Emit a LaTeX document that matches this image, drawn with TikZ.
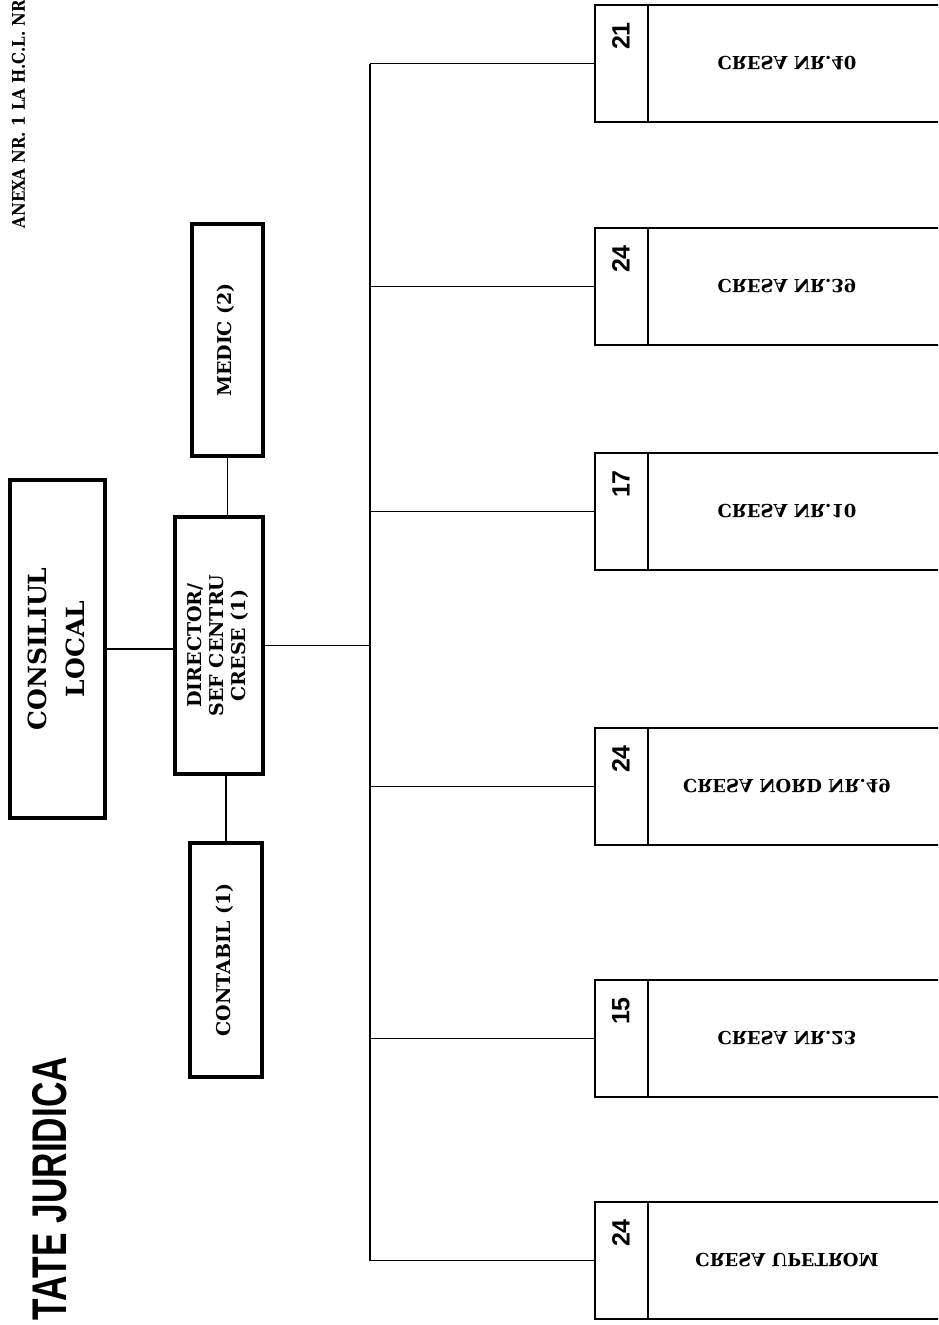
\documentclass[tikz,border=0pt]{standalone}
\usepackage{fontspec}
\setmainfont{DejaVu Serif}
\newfontfamily\numfont{Liberation Sans}
\usepackage{graphicx}
\usetikzlibrary{positioning}

\newcommand{\vtxt}[1]{\rotatebox{90}{\begin{tabular}{@{}c@{}}#1\end{tabular}}}
\newcommand{\flipy}[1]{\scalebox{1}[-1]{#1}}

\begin{document}
\begin{tikzpicture}[x=1pt,y=-1pt,
  mainbox/.style={draw,line width=3.5pt,inner sep=0pt,outer sep=0pt,font=\bfseries\fontsize{19}{22}\selectfont},
  cellbox/.style={draw,line width=1.8pt,inner sep=0pt,outer sep=0pt,minimum width=53pt,minimum height=117pt},
  namebox/.style={draw,line width=1.8pt,inner sep=0pt,outer sep=0pt,minimum width=320pt,minimum height=117pt,anchor=west},
  crtext/.style={inner sep=0pt,font=\bfseries\fontsize{18}{20}\selectfont},
  nrtext/.style={inner sep=0pt,font=\numfont\bfseries\fontsize{25}{25}\selectfont},
  link/.style={line width=1.8pt}]
  \useasboundingbox (0,0) rectangle (938,1325);
  \clip (0,0) rectangle (938,1325);

  \node[inner sep=0pt] (anexa) at (18.5,114)
    {\rotatebox{90}{\resizebox{228pt}{13pt}{\bfseries ANEXA NR. 1 LA H.C.L. NR}}};
  \node[inner sep=0pt] (titlu) at (50,1188.5)
    {\rotatebox{90}{\resizebox{263pt}{34pt}{\numfont\bfseries TATE JURIDICA}}};

  \node[mainbox,minimum width=95pt,minimum height=338pt,font=\bfseries\fontsize{25}{38}\selectfont]
    (cl) at (57.5,649) {\vtxt{CONSILIUL\\LOCAL}};
  \node[mainbox,minimum width=88pt,minimum height=257pt] (dir) at (219,645.5)
    {\vtxt{DIRECTOR/\\SEF CENTRU\\CRESE (1)}};
  \node[mainbox,minimum width=71pt,minimum height=232pt] (med) at (227.5,340) {\vtxt{MEDIC (2)}};
  \node[mainbox,minimum width=72pt,minimum height=234pt] (cont) at (226,960) {\vtxt{CONTABIL (1)}};

  \draw[link] (cl.east) -- (cl.east -| dir.west);
  \draw[link] (med.south) -- (med.south |- dir.north);
  \draw[link] (cont.north) -- (cont.north |- dir.south);

  \foreach \t/\n/\s [count=\i] in {5/21/CRESA NR.40,228/24/CRESA NR.39,453/17/CRESA NR.10,
      728/24/CRESA NORD NR.49,980/15/CRESA NR.23,1202/24/CRESA UPETROM}{
    \node[cellbox] (nr\i) at (621.5,\t+58.5) {};
    \node[namebox] (cr\i) at (nr\i.east) {};
    \node[nrtext] (num\i) at (621,\t+31) {\rotatebox{90}{\n}};
    \node[crtext] (tx\i) at (787,\t+58) {\flipy{\s}};
    \coordinate (b\i) at (370,\t+58.5);
    \draw[link] (b\i) -- (nr\i.west);
  }
  \draw[link] (b1) -- (b6);
  \draw[link] (dir.east) -- (dir.east -| b1);
\end{tikzpicture}
\end{document}
